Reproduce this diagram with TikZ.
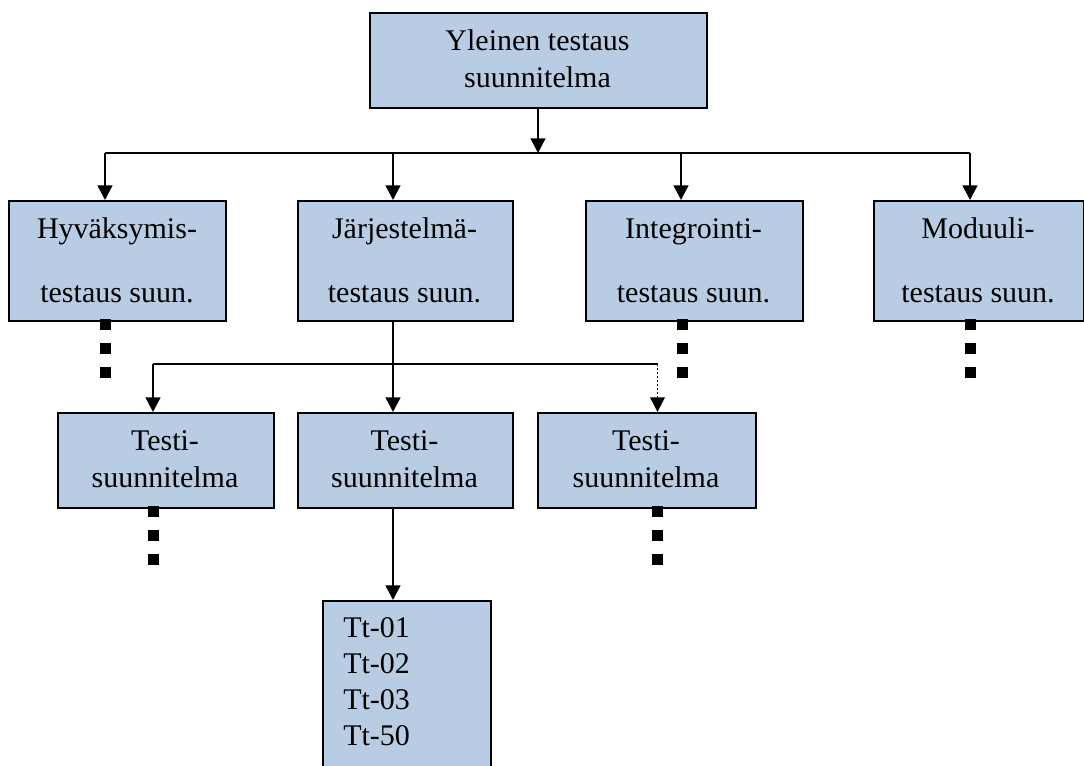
\documentclass[tikz,border=0pt]{standalone}
\usepackage{fontspec}
\setmainfont{Liberation Serif}
\usetikzlibrary{arrows.meta}
\definecolor{boxblue}{HTML}{B8CCE4}
\begin{document}
\begin{tikzpicture}[x=0.75pt,y=-0.75pt,
  bx/.style 2 args={draw=black, line width=1.4pt, fill=boxblue, inner sep=0pt, anchor=north west,
     minimum width={#1*0.75pt}, minimum height={#2*0.75pt}},
  txt/.style={inner sep=0pt, anchor=base, font=\fontsize{22.5pt}{27.75pt}\selectfont},
  wide/.style={font=\fontsize{22.5pt}{48pt}\selectfont},
  arr/.style={line width=1.8pt, -{Triangle[width=11pt,length=11pt]}},
  hline/.style={line width=1.2pt},
  sq/.style={line width=8.25pt, dash pattern=on 8.25pt off 9.75pt, line cap=butt},
  dotline/.style={line width=1.2pt, dash pattern=on 1.2pt off 1.8pt}]
\useasboundingbox (0,0) rectangle (1084,765);

% boxes
\node[bx={337}{95}] (top) at (369,12) {};
\node[bx={217}{120}] (h1) at (8,200) {};
\node[bx={215}{120}] (h2) at (297,200) {};
\node[bx={217}{120}] (h3) at (585,200) {};
\node[bx={210}{120}] (h4) at (873,200) {};
\node[bx={216}{95}] (t1) at (57,412) {};
\node[bx={215}{95}] (t2) at (297,412) {};
\node[bx={218}{95}] (t3) at (537,412) {};
\node[bx={168}{175}] (tt) at (322,600) {};

% texts
\node[txt] (topT) at (537.5,50) {\begin{tabular}[t]{@{}c@{}}Yleinen testaus\\suunnitelma\end{tabular}};
\node[txt,wide] (h1T) at (117,238) {\begin{tabular}[t]{@{}c@{}}Hyväksymis-\\testaus suun.\end{tabular}};
\node[txt,wide] (h2T) at (404.5,238) {\begin{tabular}[t]{@{}c@{}}Järjestelmä-\\testaus suun.\end{tabular}};
\node[txt,wide] (h3T) at (693.5,238) {\begin{tabular}[t]{@{}c@{}}Integrointi-\\testaus suun.\end{tabular}};
\node[txt,wide] (h4T) at (978,238) {\begin{tabular}[t]{@{}c@{}}Moduuli-\\testaus suun.\end{tabular}};
\node[txt] (t1T) at (165,450) {\begin{tabular}[t]{@{}c@{}}Testi-\\suunnitelma\end{tabular}};
\node[txt] (t2T) at (404.5,450) {\begin{tabular}[t]{@{}c@{}}Testi-\\suunnitelma\end{tabular}};
\node[txt] (t3T) at (646,450) {\begin{tabular}[t]{@{}c@{}}Testi-\\suunnitelma\end{tabular}};
\node[txt,anchor=base west,font=\fontsize{22.5pt}{27pt}\selectfont] (ttT) at (343,637)
  {\begin{tabular}[t]{@{}l@{}}Tt-01\\Tt-02\\Tt-03\\Tt-50\end{tabular}};

% level 0 -> level 1
\coordinate (s0) at (538,107);
\coordinate (j0) at (538,153);
\coordinate (jL) at (105,153);
\coordinate (jR) at (970,153);
\coordinate (j2) at (393,153);
\coordinate (j3) at (681,153);
\draw[arr] (s0) -- (j0);
\draw[hline] (jL) -- (jR);
\draw[arr] (jL) -- (jL |- h1.north);
\draw[arr] (j2) -- (j2 |- h2.north);
\draw[arr] (j3) -- (j3 |- h3.north);
\draw[arr] (jR) -- (jR |- h4.north);

% level 1 -> level 2
\coordinate (s2) at (393,320);
\coordinate (k1) at (153,364);
\coordinate (k3) at (657.5,364);
\coordinate (k3b) at (657.5,398);
\draw[hline] (k1) -- (k3);
\draw[arr] (s2) -- (s2 |- t2.north);
\draw[arr] (k1) -- (k1 |- t1.north);
\draw[dotline] (k3) -- (k3b);
\draw[line width=1.2pt, -{Triangle[width=11pt,length=11pt]}] (k3b) -- (k3 |- t3.north);

% level 2 -> list
\coordinate (s3) at (393,507);
\draw[arr] (s3) -- (s3 |- tt.north);

% continuation squares
\draw[sq] (105,319) -- (105,378);
\draw[sq] (682,319) -- (682,378);
\draw[sq] (970,319) -- (970,378);
\draw[sq] (153,506) -- (153,565);
\draw[sq] (657,506) -- (657,565);
\end{tikzpicture}
\end{document}
